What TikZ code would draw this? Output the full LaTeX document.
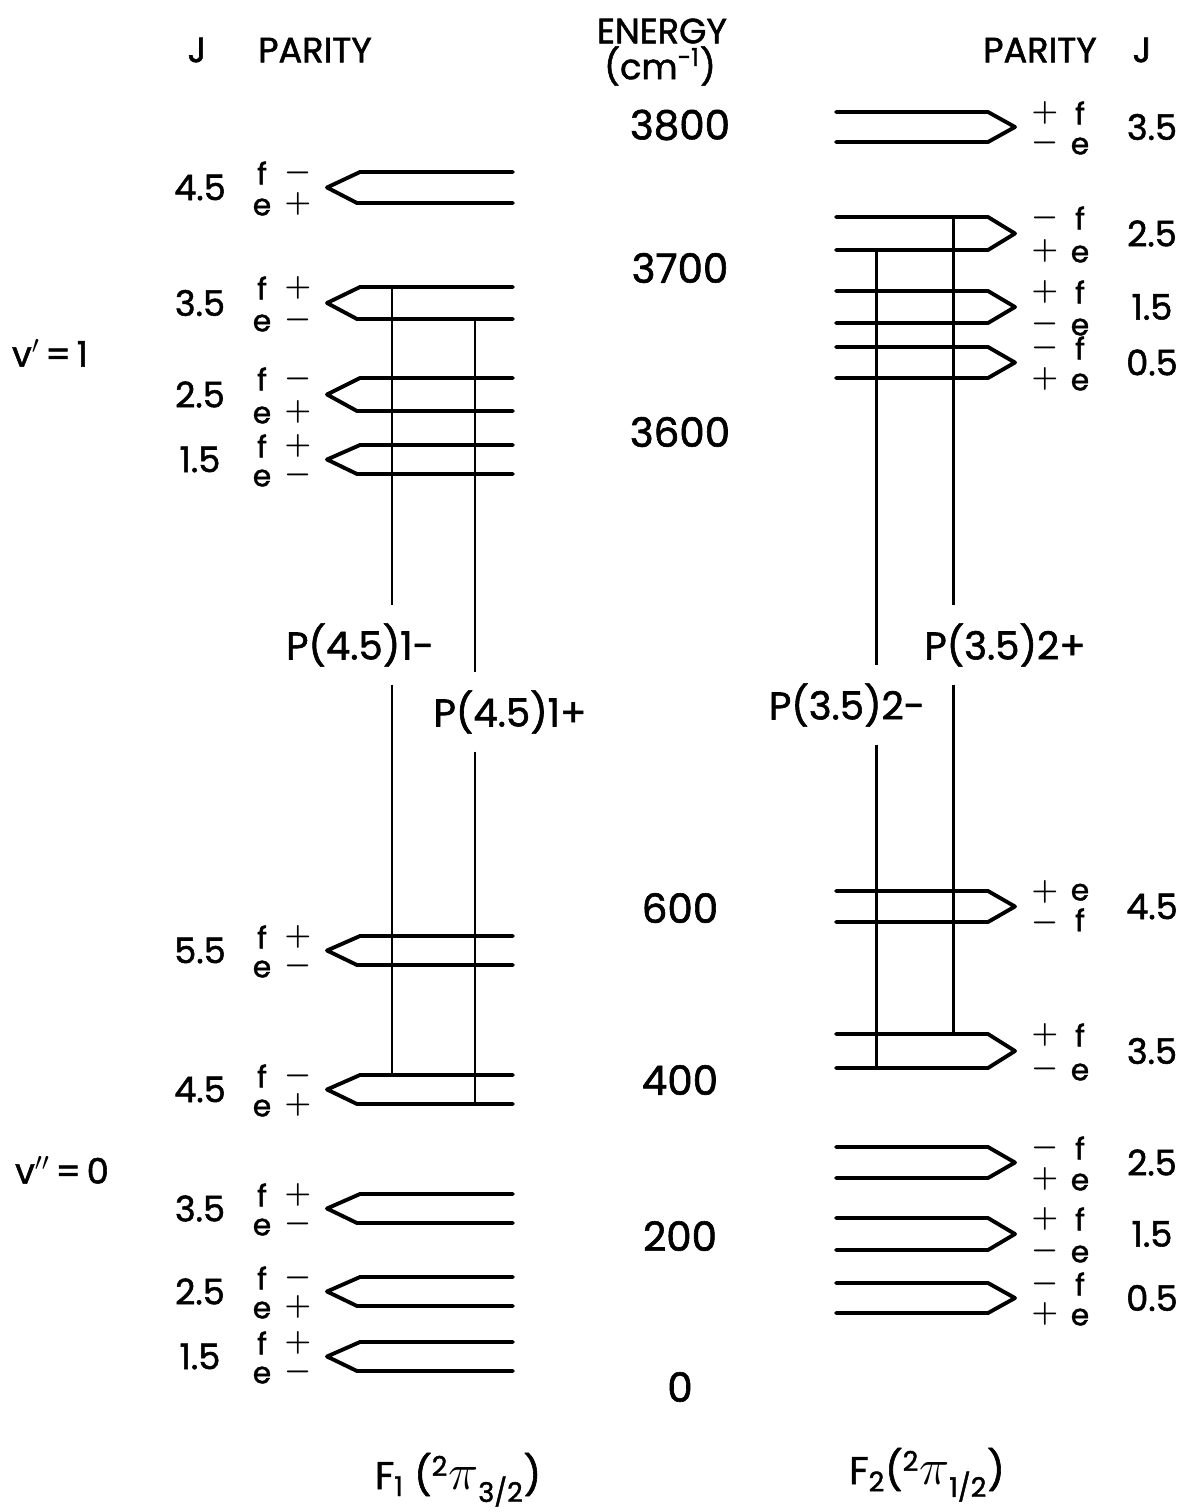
\documentclass[tikz,border=0pt]{standalone}
\usepackage{fontspec}
\setmainfont{Poppins}[FakeBold=1.5]
\usepackage{graphicx}
\usepackage{tikz}

\begin{document}
\begin{tikzpicture}[x=0.02cm, y=-0.02cm,
  lvl/.style={line width=2.2pt, line join=round, line cap=round},
  trans/.style={line width=1.7pt},
  hdr/.style={font=\fontsize{20}{22}\selectfont, inner sep=0pt},
  enr/.style={font=\fontsize{23}{25}\selectfont},
  jval/.style={font=\fontsize{20}{22}\selectfont},
  par/.style={inner sep=0pt, align=center},
  plbl/.style={font=\fontsize{22}{24}\selectfont, inner xsep=0pt, inner ysep=10pt},
  state/.style={font=\fontsize{22}{24}\selectfont, anchor=base}]
  \useasboundingbox (0,0) rectangle (1191,1512);

  % column heads
  \node[hdr] (jl) at (197,50) {J};
  \node[hdr] (pl) at (315,50) {PARITY};
  \node[hdr] (en) at (662,31) {ENERGY};
  \node[hdr] (cm) at (660,66) {(cm\textsuperscript{-1})};
  \node[hdr] (pr) at (1040,50) {PARITY};
  \node[hdr] (jr) at (1142,50) {J};

  % energy scale
  \foreach \e/\y in {3800/125, 3700/268, 3600/432, 600/908, 400/1080, 200/1236, 0/1387}
    \node[enr] (e\e) at (680,\y) {\e};

  % F1 levels (left)
  \foreach \n/\j/\yu/\yl/\su/\sl in {a45/4.5/172/203/-/+, a35/3.5/287/319/+/-,
      a25/2.5/378/411/-/+, a15/1.5/445/474/+/-, b55/5.5/936/965/+/-,
      b45/4.5/1075/1104/-/+, b35/3.5/1194/1223/+/-, b25/2.5/1277/1306/-/+,
      b15/1.5/1342/1371/+/-}{
    \pgfmathsetmacro{\bs}{(\yl-\yu)*0.567}
    \draw[lvl] (513,\yu) -- (360,\yu) -- (327,{(\yu+\yl)/2}) -- (357,\yl) -- (513,\yl);
    \coordinate (\n-u) at (513,\yu);
    \coordinate (\n-l) at (513,\yl);
    \node[jval] (\n-j) at (200,{(\yu+\yl)/2}) {\j};
    \node[par, font=\fontsize{17}{\bs pt}\selectfont] (\n-fe) at (262,{(\yu+\yl)/2+1}) {f\\e};
    \node[par, font=\fontsize{19}{\bs pt}\selectfont\boldmath] (\n-s) at (298,{(\yu+\yl)/2+1}) {$\su$\\$\sl$};
  }

  % F2 levels (right)
  \foreach \n/\j/\yu/\yl/\su/\lu/\sl/\ll in {c35/3.5/112/142/+/f/-/e,
      c25/2.5/217/250/-/f/+/e, c15/1.5/291/323/+/f/-/e, c05/0.5/347/378/-/f/+/e,
      d45/4.5/891/922/+/e/-/f, d35/3.5/1034/1068/+/f/-/e, d25/2.5/1147/1178/-/f/+/e,
      d15/1.5/1218/1250/+/f/-/e, d05/0.5/1283/1313/-/f/+/e}{
    \pgfmathsetmacro{\bs}{(\yl-\yu)*0.567}
    \draw[lvl] (836,\yu) -- (988,\yu) -- (1015,{(\yu+\yl)/2}) -- (988,\yl) -- (836,\yl);
    \coordinate (\n-u) at (836,\yu);
    \coordinate (\n-l) at (836,\yl);
    \node[jval] (\n-j) at (1152,{(\yu+\yl)/2}) {\j};
    \node[par, font=\fontsize{19}{\bs pt}\selectfont\boldmath] (\n-s) at (1045,{(\yu+\yl)/2+1}) {$\su$\\$\sl$};
    \node[par, font=\fontsize{17}{\bs pt}\selectfont] (\n-fe) at (1080,{(\yu+\yl)/2+1}) {\lu\\\ll};
  }

  % transitions
  \coordinate (k1) at (392,0);
  \coordinate (k2) at (475,0);
  \coordinate (k3) at (876,0);
  \coordinate (k4) at (953,0);
  \node[plbl] (p1m) at (360,645) {P(4.5)1-};
  \node[plbl] (p1p) at (510,712) {P(4.5)1+};
  \node[plbl] (p2m) at (847,705) {P(3.5)2-};
  \node[plbl] (p2p) at (1005,645) {P(3.5)2+};
  \draw[trans] (a35-u -| k1) -- (p1m.north -| k1);
  \draw[trans] (p1m.south -| k1) -- (b45-u -| k1);
  \draw[trans] (a35-l -| k2) -- (p1p.north -| k2);
  \draw[trans] (p1p.south -| k2) -- (b45-l -| k2);
  \draw[trans] (c25-l -| k3) -- (p2m.north -| k3);
  \draw[trans] (p2m.south -| k3) -- (d35-l -| k3);
  \draw[trans] (c25-u -| k4) -- (p2p.north -| k4);
  \draw[trans] (p2p.south -| k4) -- (d35-u -| k4);

  % vibrational and spin-orbit labels
  \node[hdr] (v1) at (50,353) {v$'$\,=\,1};
  \node[hdr] (v0) at (62,1170) {v$''$\,=\,0};
  \node[state] (f1) at (458,1489) {F\textsubscript{1} (\textsuperscript{2}\scalebox{1.4}{$\pi$}\textsubscript{3/2})};
  \node[state] (f2) at (927,1484) {F\textsubscript{2}(\textsuperscript{2}\scalebox{1.4}{$\pi$}\textsubscript{1/2})};
\end{tikzpicture}
\end{document}
